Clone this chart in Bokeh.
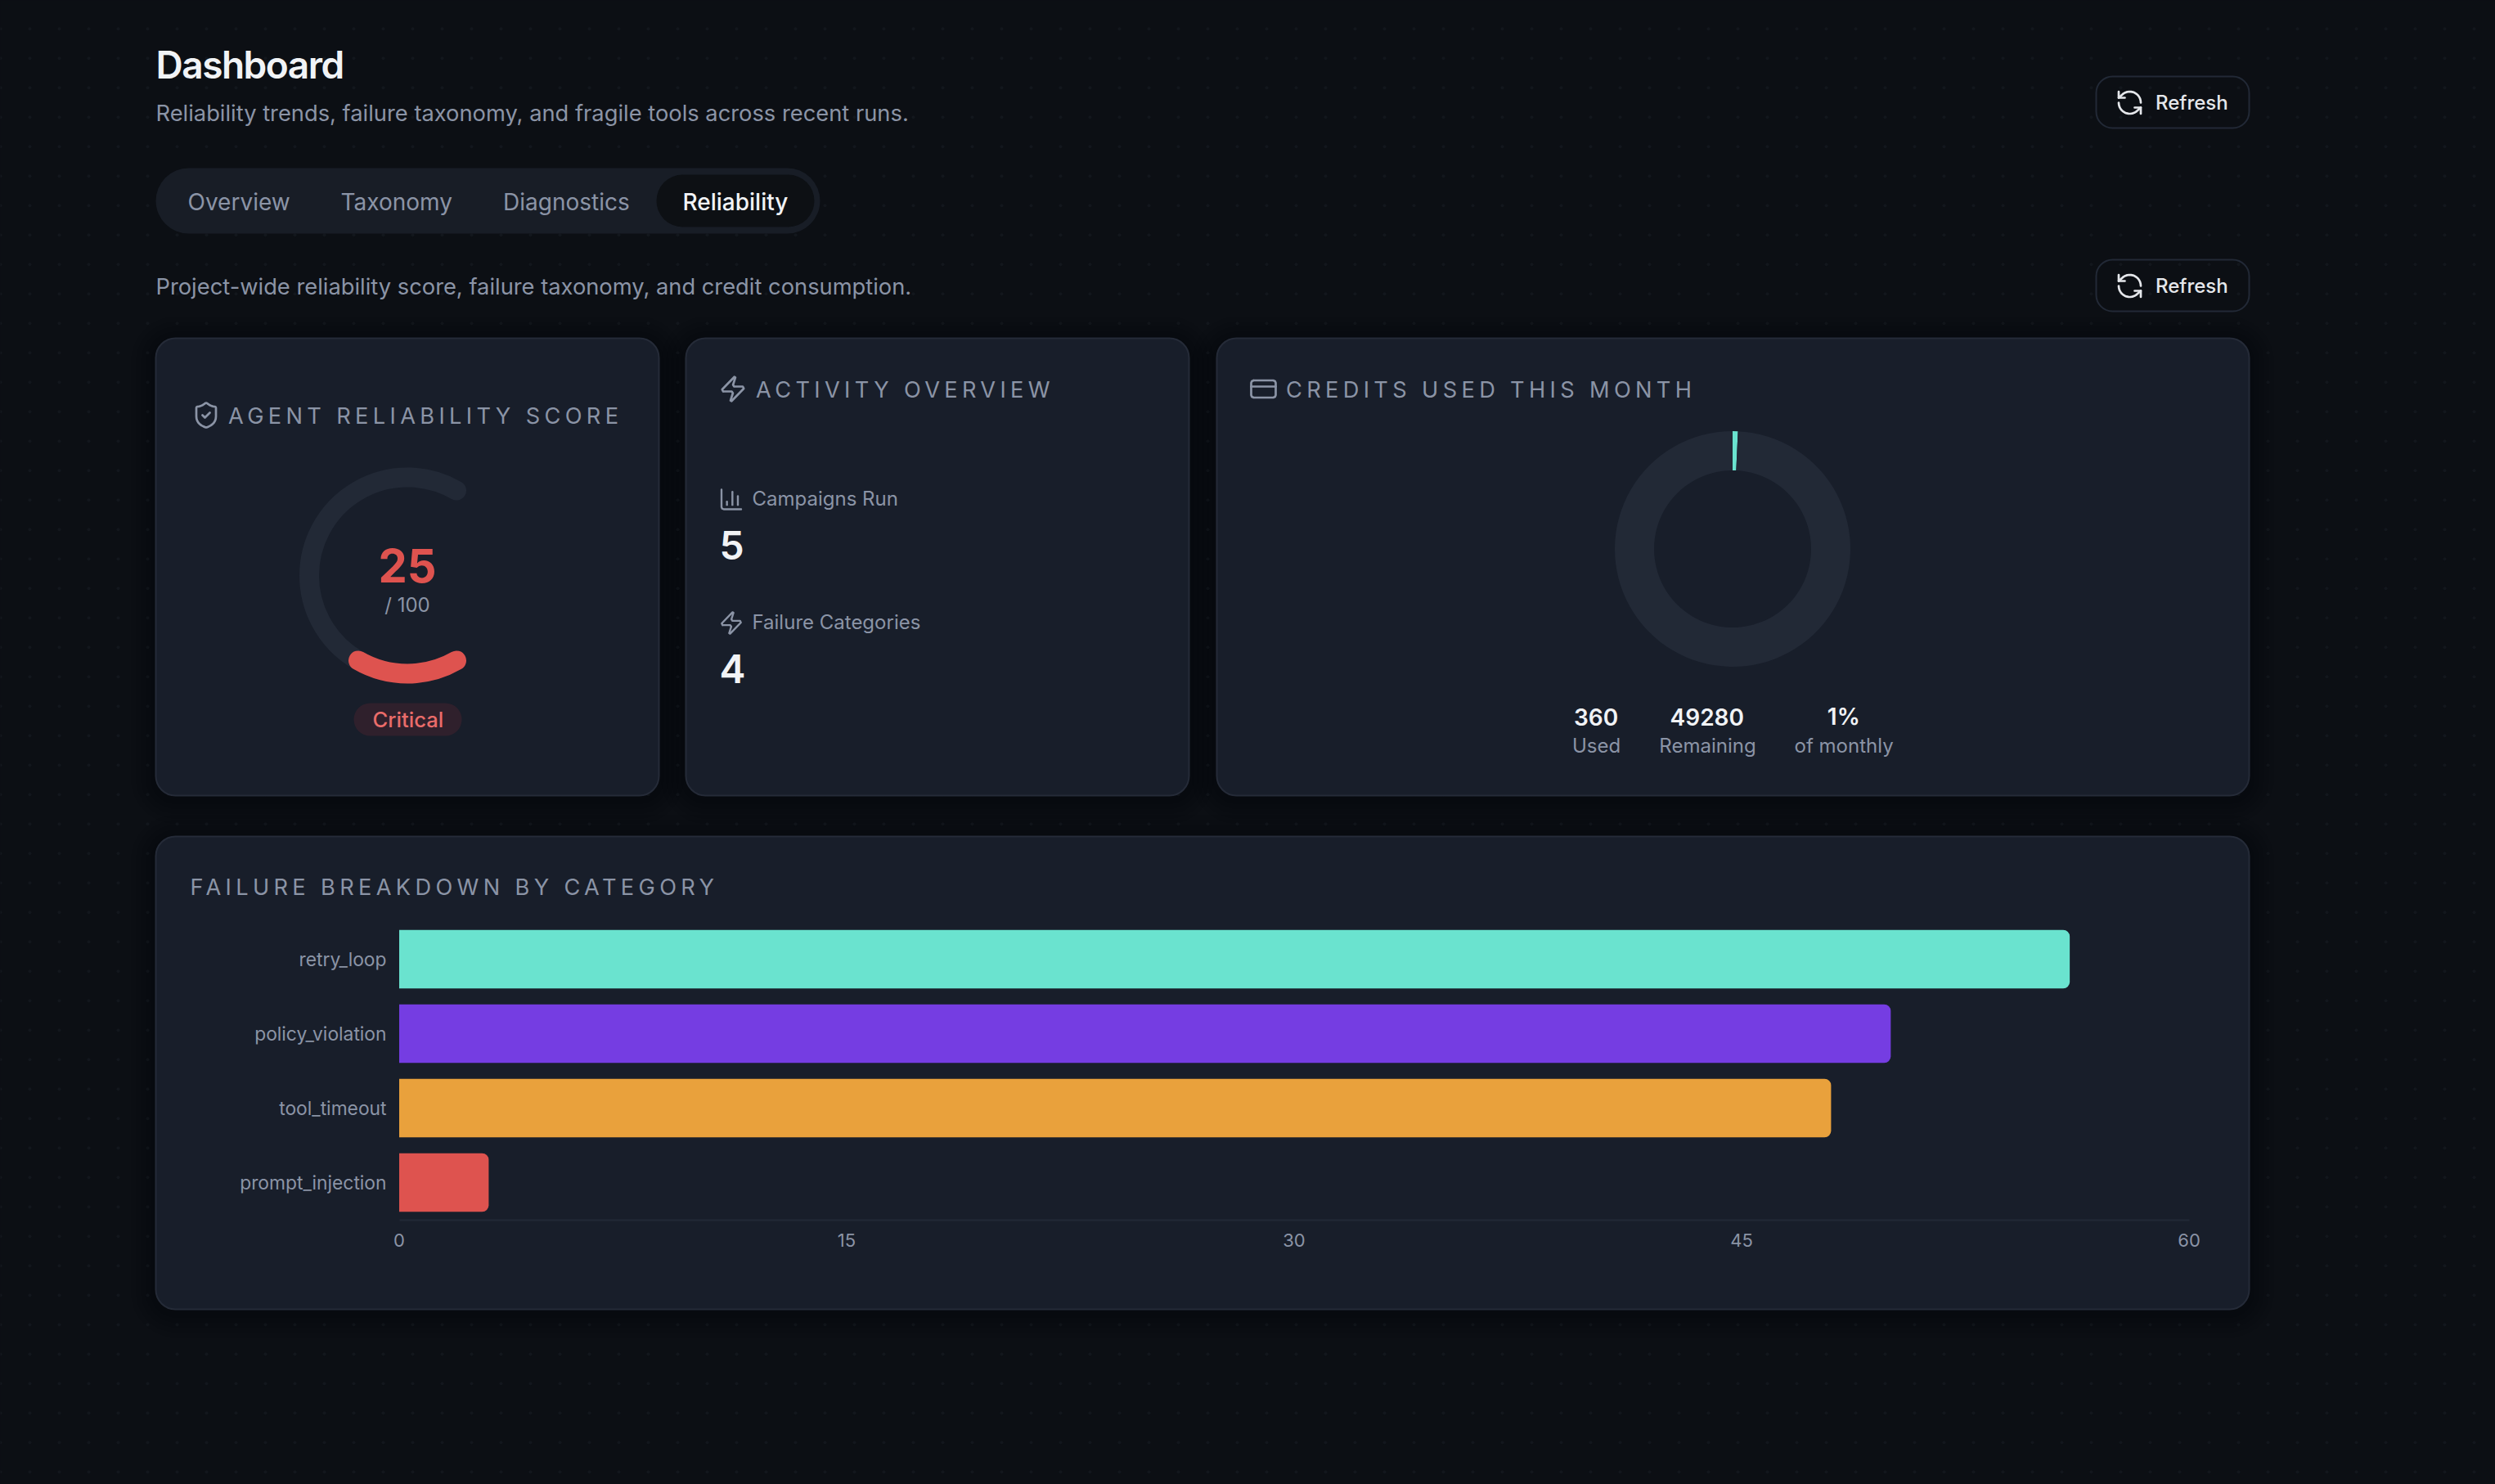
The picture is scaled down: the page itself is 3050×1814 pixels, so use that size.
from bokeh.core.properties import value
from bokeh.document import Document
from bokeh.embed import file_html
from bokeh.models import CustomJS, FixedTicker, LinearAxis, Range1d
from bokeh.plotting import figure
from bokeh.resources import INLINE
import numpy as np

# values
categories = ["retry_loop", "policy_violation", "tool_timeout", "prompt_injection"]
failure_counts = [56, 50, 48, 3]
bar_colors = ["#6ae3cf", "#753de2", "#e9a13c", "#de534f"]
value_ticks = [0, 15, 30, 45, 60]
score = 25
score_max = 100
credits_used = 360
credits_remaining = 49280
credit_stats = [("360", "Used"), ("49280", "Remaining"), ("1%", "of monthly")]
activity = [("Campaigns Run", "5"), ("Failure Categories", "4")]
tabs = ["Overview", "Taxonomy", "Diagnostics", "Reliability"]

BG = "#0c0f14"
CARD = "#181e2a"
EDGE = "#252b38"
TRACK = "#222936"
MUTED = "#8b94a6"
WHITE = "#f1f3f6"
FONT = "Inter"
W, H = 3050, 1814


def Y(y):
    return H - y


p = figure(
    width=W, height=H, output_backend="svg", toolbar_location=None,
    x_range=Range1d(0, W), y_range=Range1d(0, H),
    x_axis_type=None, y_axis_type=None, min_border=0,
    background_fill_color=BG, border_fill_color=BG, outline_line_color=None,
)

# dotted page background
dx, dy = np.meshgrid(np.arange(0, 3060, 36), np.arange(34.7, 1814, 36))
p.scatter(dx.ravel(), Y(dy.ravel()), size=4, color="#13171d", line_color=None)


def box(x0, y0, x1, y1, fill, line=None, radius=24, width=2, alpha=1.0):
    p.quad(left=[x0], right=[x1], top=[Y(y0)], bottom=[Y(y1)], fill_color=fill, fill_alpha=alpha,
           line_color=line, line_width=width, border_radius=radius)


def label(x, y, txt, size, color=MUTED, align="left", style="normal"):
    p.text([x], [Y(y)], [txt], text_font=value(FONT), text_font_size=f"{size}px", text_color=color,
           text_align=align, text_baseline="middle", text_font_style=style)


def arc_pts(cx, cy, r, a0, a1, n=14):
    a = np.radians(np.linspace(a0, a1, n))
    return list(zip(cx + r * np.cos(a), cy + r * np.sin(a)))


def cubic(a, b, c, d, n=8):
    t = np.linspace(0, 1, n)[:, None]
    a, b, c, d = map(np.array, (a, b, c, d))
    pts = (1 - t) ** 3 * a + 3 * (1 - t) ** 2 * t * b + 3 * (1 - t) * t ** 2 * c + t ** 3 * d
    return [tuple(q) for q in pts]


def icon(paths, cx, cy, size, color=MUTED, width=2.7):
    s = size / 24
    xs = [[cx + (q[0] - 12) * s for q in path] for path in paths]
    ys = [[Y(cy + (q[1] - 12) * s) for q in path] for path in paths]
    p.multi_line(xs, ys, line_color=color, line_width=width, line_cap="round", line_join="round")


ICON_REFRESH = [
    arc_pts(12, 12, 9, 0, -135) + [(3, 8)],
    [(3, 3), (3, 8), (8, 8)],
    arc_pts(12, 12, 9, 180, 45) + [(21, 16)],
    [(16, 16), (21, 16), (21, 21)],
]
ICON_SHIELD = [
    cubic((20, 13), (20, 18), (16.5, 20.5), (12.34, 21.95)) + [(11.67, 21.94)]
    + cubic((11.67, 21.94), (7.5, 20.5), (4, 18), (4, 13)) + [(4, 6), (4.3, 5.3), (5, 5)]
    + cubic((5, 5), (7, 5), (9.5, 3.8), (11.24, 2.28)) + [(12, 2), (12.76, 2.28)]
    + cubic((12.76, 2.28), (14.51, 3.81), (17, 5), (19, 5)) + [(19.7, 5.3), (20, 6), (20, 13)],
    [(9, 12), (11, 14), (15, 10)],
]
ICON_ZAP = [[(4, 14), (3.22, 12.37), (13.12, 2.17), (13.98, 2.63), (12.06, 8.65), (13, 10), (20, 10),
             (20.78, 11.63), (10.88, 21.83), (10.02, 21.37), (11.94, 15.35), (11, 14), (4, 14)]]
ICON_CHART = [[(3, 3), (3, 19), (3.6, 20.4), (5, 21), (21, 21)],
              [(18, 17), (18, 9)], [(13, 17), (13, 5)], [(8, 17), (8, 14)]]
ICON_CARD = [[(4, 5), (20, 5), (21.4, 5.6), (22, 7), (22, 17), (21.4, 18.4), (20, 19), (4, 19),
              (2.6, 18.4), (2, 17), (2, 7), (2.6, 5.6), (4, 5)], [(2, 10), (22, 10)]]

# header
label(190, 78, "Dashboard", 46, WHITE, style="bold")
label(190, 138, "Reliability trends, failure taxonomy, and fragile tools across recent runs.", 27.3)
box(190, 205, 1002, 285, "#181d26", radius=40)
box(802, 213, 995, 277, "#0d1014", radius=32)
for x, name in zip([229, 416, 614.5, 834], tabs):
    label(x, 246, name, 28, WHITE if name == "Reliability" else MUTED)
label(190, 350, "Project-wide reliability score, failure taxonomy, and credit consumption.", 27.3)
for y0 in [93, 317]:
    box(2562, y0, 2749, y0 + 63, None, line="#222936", radius=20)
    icon(ICON_REFRESH, 2603, y0 + 32, 36, "#e5e7eb")
    label(2634.5, y0 + 32, "Refresh", 24, "#e5e7eb")

# cards, with a soft shadow around each
cards = [(190, 413, 805, 972), (838, 413, 1453, 972), (1487, 413, 2749, 972), (190, 1022, 2749, 1600)]
for x0, y0, x1, y1 in cards:
    for k in [30, 24, 18, 12, 6]:
        box(x0 - k, y0 - k + 4, x1 + k, y1 + k + 4, "#000000", radius=24 + k, alpha=0.035)
for x0, y0, x1, y1 in cards:
    box(x0, y0, x1, y1, CARD, EDGE)

# reliability gauge
icon(ICON_SHIELD, 251.5, 507, 36)
label(278.5, 508, "AGENT RELIABILITY SCORE", 27.2)
gauge_x, gauge_y, gauge_r = 497.5, 703, 120
gauge_span = 240
gauge_top = 60
gauge_low = gauge_top + gauge_span
p.arc([gauge_x], [Y(gauge_y)], radius=gauge_r, start_angle=np.radians(gauge_top),
      end_angle=np.radians(gauge_low), line_color=TRACK, line_width=24, line_cap="round")
p.arc([gauge_x], [Y(gauge_y)], radius=gauge_r,
      start_angle=np.radians(gauge_low - gauge_span * score / score_max),
      end_angle=np.radians(gauge_low), line_color="#de534f", line_width=24, line_cap="round")
label(gauge_x, 690.5, str(score), 56, "#de534f", "center", "bold")
label(gauge_x, 738.5, f"/ {score_max}", 24, MUTED, "center")
box(432, 859, 564, 899, "#2f202c", radius=20)
label(gauge_x, 878.5, "Critical", 25.6, "#ea6c6a", "center")

# activity overview
icon(ICON_ZAP, 895.5, 475, 36)
label(923.5, 476, "ACTIVITY OVERVIEW", 27.2)
for (name, val), ic, y0 in zip(activity, [ICON_CHART, ICON_ZAP], [610, 761]):
    icon(ic, 893.5, y0, 32, width=2.4)
    label(919, y0 - 1.5, name, 24)
    label(879, y0 + 55.5, val, 48, WHITE, style="bold")

# credits donut
icon(ICON_CARD, 1544, 475, 36)
label(1571.5, 476, "CREDITS USED THIS MONTH", 27.2)
credit_vals = np.array([credits_used, credits_remaining], dtype=float)
ends = np.cumsum(credit_vals) / credit_vals.sum() * 2 * np.pi
starts = np.r_[0, ends[:-1]]
p.annular_wedge([2117.5] * 2, [Y(670.5)] * 2, inner_radius=96, outer_radius=144,
                start_angle=np.pi / 2 - ends, end_angle=np.pi / 2 - starts,
                fill_color=["#6ae3cf", TRACK], line_color=None)
for x, (val, name) in zip([1951, 2087, 2253.6], credit_stats):
    label(x, 875.5, val, 28, WHITE, "center", "bold")
    label(x, 911, name, 24, MUTED, "center")

# failure breakdown chart
label(232, 1084, "FAILURE BREAKDOWN BY CATEGORY", 27.2)
px_per_unit = (2676 - 488) / 60
px_per_band = 91
p.extra_x_ranges["value"] = Range1d(-487.5 / px_per_unit, (W - 487.5) / px_per_unit)
p.extra_y_ranges["cat"] = Range1d((H - 1172) / px_per_band, -1172 / px_per_band)
positions = list(range(len(categories)))
p.hbar(y=positions, left=0, right=failure_counts, height=71.5 / px_per_band, fill_color=bar_colors,
       line_color=None, x_range_name="value", y_range_name="cat", border_radius=(0, 8, 8, 0))

x_ax = LinearAxis(x_range_name="value", fixed_location=Y(1491), bounds=(0, 60),
                  ticker=FixedTicker(ticks=value_ticks), axis_line_color=TRACK, axis_line_width=2,
                  major_tick_line_color=None, minor_tick_line_color=None, major_label_standoff=10,
                  major_label_text_font=FONT, major_label_text_font_size="22px",
                  major_label_text_color=MUTED)
y_ax = LinearAxis(y_range_name="cat", fixed_location=488, bounds=(-0.5, 3.5),
                  ticker=FixedTicker(ticks=positions), axis_line_color=None,
                  major_tick_line_color=None, minor_tick_line_color=None, major_label_standoff=10,
                  major_label_overrides=dict(zip(positions, categories)),
                  major_label_text_font=FONT, major_label_text_font_size="22.8px",
                  major_label_text_color=MUTED)
p.add_layout(x_ax, "below")
p.add_layout(y_ax, "left")

# letter spacing and weights can only be set on the svg text nodes
text_css = {
    "AGENT RELIABILITY SCORE": ["5.35px", "400"],
    "ACTIVITY OVERVIEW": ["5.35px", "400"],
    "CREDITS USED THIS MONTH": ["5.35px", "400"],
    "FAILURE BREAKDOWN BY CATEGORY": ["5.35px", "400"],
    "Dashboard": ["-1.5px", "600"],
    "5": ["0", "600"],
    "4": ["0", "600"],
    "360": ["0", "600"],
    "49280": ["0", "600"],
    "1%": ["0", "600"],
    "Critical": ["0", "500"],
    "Reliability": ["0", "450"],
    "Refresh": ["0", "450"],
}
restyle = CustomJS(args=dict(css=text_css, bg=BG), code="""
document.documentElement.style.background = bg
document.body.style.background = bg
const walk = (root) => {
  for (const el of root.querySelectorAll('*')) {
    if (el.shadowRoot) walk(el.shadowRoot)
    if (el.tagName.toLowerCase() == 'text' && css[el.textContent] != null) {
      el.style.letterSpacing = css[el.textContent][0]
      el.setAttribute('font-weight', css[el.textContent][1])
      el.style.fontWeight = css[el.textContent][1]
    }
  }
}
walk(document)
let n = 0
const t = setInterval(() => { walk(document); if (++n > 20) clearInterval(t) }, 50)
""")

doc = Document()
doc.add_root(p)
doc.js_on_event("document_ready", restyle)
open("out.html", "w").write(file_html(p, INLINE))
